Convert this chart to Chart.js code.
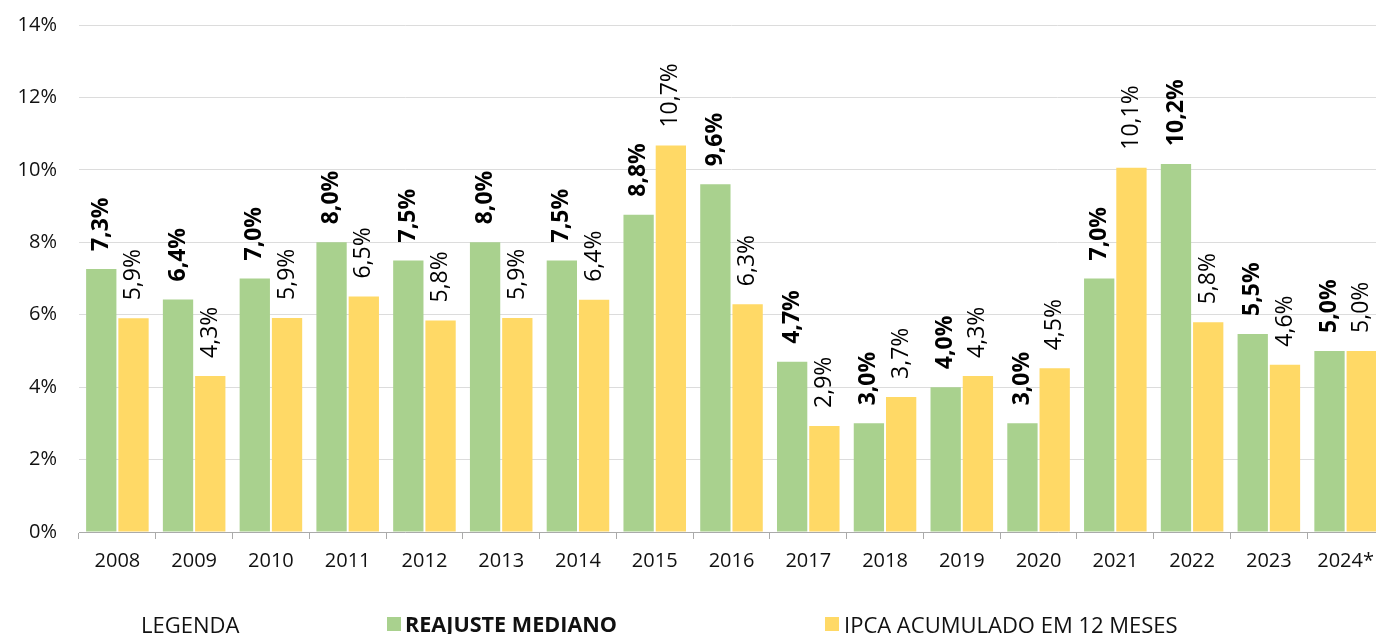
<!DOCTYPE html>
<html>
<head>
<meta charset="utf-8">
<script src="https://cdn.jsdelivr.net/npm/chart.js@4.4.1/dist/chart.umd.min.js"></script>
<style>
  html, body { margin: 0; padding: 0; background: #fff; width: 1376px; height: 634px; overflow: hidden; }
  #wrap { position: absolute; left: 0; top: 0; width: 1384px; height: 634px; }
  .leg { position: absolute; font-family: "Open Sans", Lato, sans-serif; font-size: 22px; color: #111; white-space: nowrap; line-height: 22px; top: 613px; }
  .sq { position: absolute; width: 14px; height: 14px; top: 617px; }
</style>
</head>
<body>
<div id="wrap"><canvas id="c"></canvas></div>
<div class="leg" style="left:141px;">LEGENDA</div>
<div class="sq" style="left:387px;background:#A9D18E;"></div>
<div class="leg" style="left:405px;font-weight:bold;font-size:21.6px;">REAJUSTE MEDIANO</div>
<div class="sq" style="left:825px;background:#FFD966;"></div>
<div class="leg" style="left:844px;">IPCA ACUMULADO EM 12 MESES</div>
<script>
const categories = ["2008","2009","2010","2011","2012","2013","2014","2015","2016","2017","2018","2019","2020","2021","2022","2023","2024*"];
const reajusteMediano = [7.26, 6.42, 7.0, 8.0, 7.5, 8.0, 7.5, 8.76, 9.6, 4.7, 3.0, 4.0, 3.0, 7.0, 10.16, 5.47, 5.0];
const ipca12Meses = [5.9, 4.31, 5.91, 6.5, 5.84, 5.91, 6.41, 10.67, 6.29, 2.93, 3.73, 4.31, 4.52, 10.06, 5.79, 4.62, 5.0];
const yTicks = [0, 2, 4, 6, 8, 10, 12, 14];

const fmt = v => v.toFixed(1).replace('.', ',') + '%';

const labelPlugin = {
  id: 'rotLabels',
  afterDatasetsDraw(chart) {
    const ctx = chart.ctx;
    chart.data.datasets.forEach((ds, i) => {
      const meta = chart.getDatasetMeta(i);
      meta.data.forEach((bar, j) => {
        ctx.save();
        ctx.translate(bar.x, bar.y - 18);
        ctx.rotate(-Math.PI / 2);
        ctx.textAlign = 'left';
        ctx.textBaseline = 'middle';
        ctx.fillStyle = '#000';
        ctx.font = (i === 0 ? 'bold ' : '') + '23px "Open Sans"';
        ctx.fillText(fmt(ds.data[j]), 0, 0);
        ctx.restore();
      });
    });
  }
};

new Chart(document.getElementById('c'), {
  type: 'bar',
  data: {
    labels: categories,
    datasets: [
      { label: 'REAJUSTE MEDIANO', data: reajusteMediano, backgroundColor: '#A9D18E', categoryPercentage: 0.84, barPercentage: 0.94 },
      { label: 'IPCA ACUMULADO EM 12 MESES', data: ipca12Meses, backgroundColor: '#FFD966', categoryPercentage: 0.84, barPercentage: 0.94 }
    ]
  },
  options: {
    responsive: true,
    maintainAspectRatio: false,
    animation: false,
    layout: { padding: { top: 25, right: 0, bottom: 51, left: 0 } },
    plugins: { legend: { display: false }, tooltip: { enabled: false } },
    scales: {
      x: {
        grid: { drawOnChartArea: false, tickLength: 7, color: '#aaa', offset: true },
        border: { color: '#aaa' },
        ticks: { color: '#111', font: { family: 'Open Sans', size: 20 }, padding: 10, maxRotation: 0 }
      },
      y: {
        min: 0, max: 14,
        afterBuildTicks: s => { s.ticks = yTicks.map(v => ({ value: v })); },
        afterFit: s => { s.width = 79; },
        grid: { color: '#dcdcdc', drawTicks: true, tickLength: 22, tickColor: 'rgba(0,0,0,0)' },
        border: { display: false },
        ticks: { color: '#111', font: { family: 'Open Sans', size: 20 }, padding: 0, callback: v => v + '%' }
      }
    }
  },
  plugins: [labelPlugin]
});
</script>
</body>
</html>
